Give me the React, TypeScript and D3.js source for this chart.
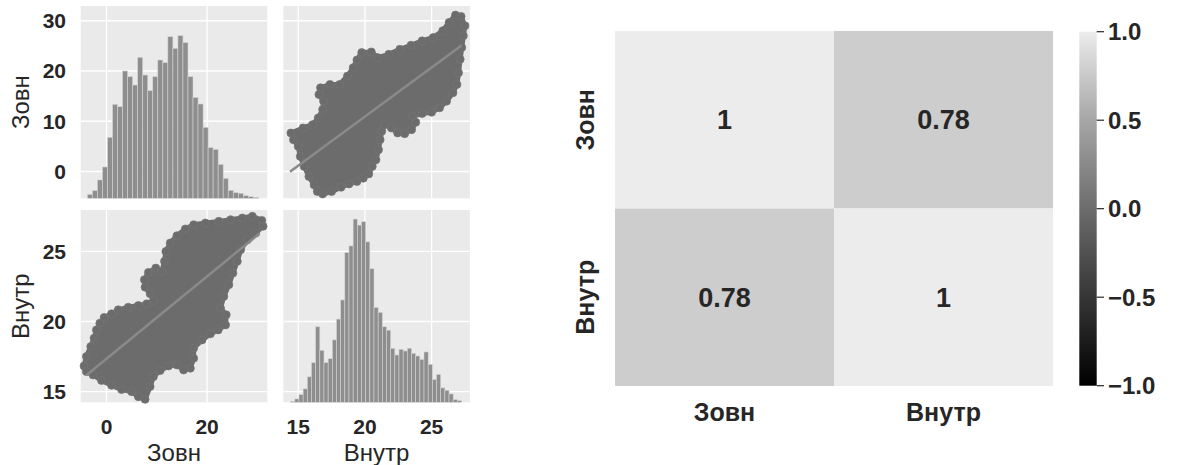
import React, { useEffect, useRef } from 'react'
import * as d3 from 'd3'

const variables = ['Зовн', 'Внутр']

// histogram of Зовн: 34 bins, 1 unit wide
const zovnBinStart = -3.8
const zovnBinWidth = 1.0
const zovnCounts = [
  12, 23, 55, 94, 183, 282, 275, 382, 365, 340, 423, 370, 323, 365, 415, 407, 485,
  450, 488, 467, 365, 303, 283, 213, 152, 147, 102, 60, 24, 17, 15, 8, 5, 3,
]
const zovnCountMax = 577

// histogram of Внутр: 41 bins
const vnutrBinStart = 14.43
const vnutrBinWidth = 0.3125
const vnutrCounts = [
  3, 10, 23, 40, 76, 118, 225, 155, 118, 130, 186, 248, 305, 446, 466, 546, 528, 538,
  478, 398, 283, 268, 225, 215, 161, 141, 158, 153, 161, 146, 138, 128, 150, 113, 68,
  83, 43, 36, 25, 8, 5,
]
const vnutrCountMax = 573

// axis limits read from the pairplot
const zovnLimX = [-5.13, 31.97]
const zovnLimY = [-5.33, 32.94]
const vnutrLimX = [13.88, 27.87]
const vnutrLimY = [14.24, 27.95]
const zovnTicks = [0, 20]
const zovnTicksY = [0, 10, 20, 30]
const vnutrTicks = [15, 20, 25]

// outline of the scatter cloud, [Зовн, Внутр]
const cloudOutline: [number, number][] = [
  [-4.47, 16.83], [-4.0, 17.5], [-3.13, 18.21], [-2.47, 18.81], [-2.0, 19.4],
  [-1.33, 19.88], [-0.47, 20.29], [1.0, 20.55], [2.33, 20.83], [4.33, 21.02],
  [6.33, 21.14], [8.0, 21.26], [9.33, 21.48], [8.67, 21.98], [7.67, 22.45],
  [7.53, 22.98], [8.33, 23.5], [9.8, 23.81], [11.0, 23.57], [11.53, 24.29],
  [11.8, 25.0], [12.67, 25.6], [14.0, 26.12], [15.67, 26.6], [17.33, 26.9],
  [19.67, 27.02], [22.33, 27.14], [24.67, 27.26], [27.0, 27.38], [29.0, 27.5],
  [30.87, 27.21], [31.13, 26.79], [29.67, 26.31], [28.0, 25.83], [26.67, 25.12],
  [26.0, 24.29], [25.13, 23.45], [24.33, 22.62], [23.33, 21.79], [22.67, 20.95],
  [23.8, 20.48], [23.67, 19.76], [22.2, 19.4], [20.67, 19.12], [19.0, 18.69],
  [17.33, 18.1], [17.33, 17.38], [16.67, 16.67], [15.33, 16.55], [14.0, 16.9],
  [12.33, 16.83], [10.67, 16.5], [9.33, 16.07], [8.67, 15.36], [7.67, 14.45],
  [6.33, 14.64], [5.0, 15.0], [3.0, 15.15], [1.0, 15.45], [-1.0, 15.8],
  [-2.67, 16.19], [-4.0, 16.43],
]

// regression lines
const vnutrOnZovn: [number, number][] = [[-4.0, 16.17], [30.4, 26.27]] // [Зовн, Внутр]
const zovnOnVnutr: [number, number][] = [[14.38, -0.06], [27.24, 25.1]] // [Внутр, Зовн]

const corr = [
  [1, 0.78],
  [0.78, 1],
]
const cbarTicks = [-1, -0.5, 0, 0.5, 1]

const FONT = '"Liberation Sans", Arial, sans-serif'
const TEXT = '#262626'
const PANEL_BG = '#eaeaea'

export default function App() {
  const svgRef = useRef<SVGSVGElement>(null)

  useEffect(() => {
    if (!svgRef.current) return
    const svg = d3.select(svgRef.current)
    svg.selectAll('*').remove()

    // ---------- pairplot ----------
    const colX = [80.7, 283.3]
    const colW = 186.6
    const rowY = [6, 210]
    const rowH = 192.3

    const xScales = [
      d3.scaleLinear().domain(zovnLimX).range([colX[0], colX[0] + colW]),
      d3.scaleLinear().domain(vnutrLimX).range([colX[1], colX[1] + colW]),
    ]
    const yScales = [
      d3.scaleLinear().domain(zovnLimY).range([rowY[0] + rowH, rowY[0]]),
      d3.scaleLinear().domain(vnutrLimY).range([rowY[1] + rowH, rowY[1]]),
    ]
    const xTicks = [zovnTicks, vnutrTicks]
    const yTicks = [zovnTicksY, vnutrTicks]

    for (let r = 0; r < 2; r++) {
      for (let c = 0; c < 2; c++) {
        const g = svg.append('g')
        g.append('rect')
          .attr('x', colX[c])
          .attr('y', rowY[r])
          .attr('width', colW)
          .attr('height', rowH)
          .attr('fill', PANEL_BG)
        g.selectAll('.vgrid')
          .data(xTicks[c])
          .join('line')
          .attr('x1', (d) => xScales[c](d))
          .attr('x2', (d) => xScales[c](d))
          .attr('y1', rowY[r])
          .attr('y2', rowY[r] + rowH)
          .attr('stroke', 'white')
          .attr('stroke-width', 1.3)
        g.selectAll('.hgrid')
          .data(yTicks[r])
          .join('line')
          .attr('x1', colX[c])
          .attr('x2', colX[c] + colW)
          .attr('y1', (d) => yScales[r](d))
          .attr('y2', (d) => yScales[r](d))
          .attr('stroke', 'white')
          .attr('stroke-width', 1.3)
      }
    }

    // diagonal histograms
    const drawHist = (
      counts: number[],
      start: number,
      width: number,
      countMax: number,
      c: number,
      r: number
    ) => {
      const x = xScales[c]
      const y = d3.scaleLinear().domain([0, countMax]).range([rowY[r] + rowH, rowY[r]])
      svg.append('g')
        .selectAll('rect')
        .data(counts)
        .join('rect')
        .attr('x', (d, i) => x(start + i * width))
        .attr('width', (d, i) => x(start + (i + 1) * width) - x(start + i * width))
        .attr('y', (d) => y(d))
        .attr('height', (d) => y(0) - y(d))
        .attr('fill', '#8e8e8e')
        .attr('stroke', '#d4d4d4')
        .attr('stroke-width', 0.6)
    }
    drawHist(zovnCounts, zovnBinStart, zovnBinWidth, zovnCountMax, 0, 0)
    drawHist(vnutrCounts, vnutrBinStart, vnutrBinWidth, vnutrCountMax, 1, 1)

    // scatter clouds
    const drawCloud = (pts: [number, number][], c: number, r: number) => {
      const x = xScales[c]
      const y = yScales[r]
      const g = svg.append('g')
      g.append('path')
        .attr('d', d3.line<[number, number]>().x((d) => x(d[0])).y((d) => y(d[1])).curve(d3.curveLinearClosed)(pts))
        .attr('fill', '#6c6c6c')
        .attr('stroke', '#6c6c6c')
        .attr('stroke-width', 5)
        .attr('stroke-linejoin', 'round')
      g.selectAll('circle')
        .data(pts)
        .join('circle')
        .attr('cx', (d) => x(d[0]))
        .attr('cy', (d) => y(d[1]))
        .attr('r', 4)
        .attr('fill', '#6c6c6c')
        .attr('stroke', '#757575')
        .attr('stroke-width', 0.7)
    }
    drawCloud(cloudOutline, 0, 1)
    drawCloud(cloudOutline.map((d) => [d[1], d[0]] as [number, number]), 1, 0)

    const drawReg = (pts: [number, number][], c: number, r: number) => {
      svg.append('path')
        .attr('d', d3.line<[number, number]>().x((d) => xScales[c](d[0])).y((d) => yScales[r](d[1]))(pts))
        .attr('stroke', '#8a8a8a')
        .attr('stroke-width', 2.5)
        .attr('fill', 'none')
    }
    drawReg(vnutrOnZovn, 0, 1)
    drawReg(zovnOnVnutr, 1, 0)

    // tick labels
    for (let r = 0; r < 2; r++) {
      svg.append('g')
        .selectAll('text')
        .data(yTicks[r])
        .join('text')
        .attr('x', 66)
        .attr('y', (d) => yScales[r](d))
        .attr('dy', '0.35em')
        .attr('text-anchor', 'end')
        .attr('font-family', FONT)
        .attr('font-weight', 'bold')
        .attr('font-size', 21)
        .attr('fill', TEXT)
        .text((d) => d)
      svg.append('text')
        .attr('transform', `translate(29,${rowY[r] + rowH / 2}) rotate(-90)`)
        .attr('text-anchor', 'middle')
        .attr('font-family', FONT)
        .attr('font-size', 24)
        .attr('fill', TEXT)
        .text(variables[r])
    }
    for (let c = 0; c < 2; c++) {
      svg.append('g')
        .selectAll('text')
        .data(xTicks[c])
        .join('text')
        .attr('x', (d) => xScales[c](d))
        .attr('y', 434)
        .attr('text-anchor', 'middle')
        .attr('font-family', FONT)
        .attr('font-weight', 'bold')
        .attr('font-size', 21)
        .attr('fill', TEXT)
        .text((d) => d)
      svg.append('text')
        .attr('x', colX[c] + colW / 2)
        .attr('y', 461)
        .attr('text-anchor', 'middle')
        .attr('font-family', FONT)
        .attr('font-size', 24)
        .attr('fill', TEXT)
        .text(variables[c])
    }

    // ---------- heatmap ----------
    const hx = d3.scaleBand().domain(variables).range([615, 1053])
    const hy = d3.scaleBand().domain(variables).range([31, 386])
    const color = d3
      .scaleLinear<string>()
      .domain([-1, -0.5, 0, 0.5, 1])
      .range(['#000000', '#363636', '#6c6c6c', '#a6a6a6', '#ececec'])

    const cells = variables.flatMap((row, i) =>
      variables.map((col, j) => ({ row, col, value: corr[i][j] }))
    )
    const hg = svg.append('g')
    hg.selectAll('rect')
      .data(cells)
      .join('rect')
      .attr('x', (d) => hx(d.col)!)
      .attr('y', (d) => hy(d.row)!)
      .attr('width', hx.bandwidth())
      .attr('height', hy.bandwidth())
      .attr('fill', (d) => color(d.value))
    hg.selectAll('text')
      .data(cells)
      .join('text')
      .attr('x', (d) => hx(d.col)! + hx.bandwidth() / 2)
      .attr('y', (d) => hy(d.row)! + hy.bandwidth() / 2)
      .attr('dy', '0.35em')
      .attr('text-anchor', 'middle')
      .attr('font-family', FONT)
      .attr('font-weight', 'bold')
      .attr('font-size', 27)
      .attr('fill', TEXT)
      .text((d) => d3.format('.2~f')(d.value))

    svg.append('g')
      .selectAll('text')
      .data(variables)
      .join('text')
      .attr('x', (d) => hx(d)! + hx.bandwidth() / 2)
      .attr('y', 421)
      .attr('text-anchor', 'middle')
      .attr('font-family', FONT)
      .attr('font-weight', 'bold')
      .attr('font-size', 25)
      .attr('fill', TEXT)
      .text((d) => d)
    svg.append('g')
      .selectAll('text')
      .data(variables)
      .join('text')
      .attr('transform', (d) => `translate(594,${hy(d)! + hy.bandwidth() / 2}) rotate(-90)`)
      .attr('text-anchor', 'middle')
      .attr('font-family', FONT)
      .attr('font-weight', 'bold')
      .attr('font-size', 25)
      .attr('fill', TEXT)
      .text((d) => d)

    // colorbar
    const cb = d3.scaleLinear().domain([-1, 1]).range([385.7, 31.7])
    const grad = svg.append('defs')
      .append('linearGradient')
      .attr('id', 'cbar')
      .attr('x1', 0)
      .attr('y1', 1)
      .attr('x2', 0)
      .attr('y2', 0)
    grad.selectAll('stop')
      .data(color.domain())
      .join('stop')
      .attr('offset', (d) => (d + 1) / 2)
      .attr('stop-color', (d) => color(d))
    svg.append('rect')
      .attr('x', 1079.3)
      .attr('y', cb(1))
      .attr('width', 17.4)
      .attr('height', cb(-1) - cb(1))
      .attr('fill', 'url(#cbar)')

    const cbAxis = svg.append('g')
    cbAxis.selectAll('line')
      .data(cbarTicks)
      .join('line')
      .attr('x1', 1096.7)
      .attr('x2', 1104)
      .attr('y1', (d) => cb(d))
      .attr('y2', (d) => cb(d))
      .attr('stroke', TEXT)
      .attr('stroke-width', 1.2)
    cbAxis.selectAll('text')
      .data(cbarTicks)
      .join('text')
      .attr('x', 1108)
      .attr('y', (d) => cb(d))
      .attr('dy', '0.35em')
      .attr('font-family', FONT)
      .attr('font-weight', 'bold')
      .attr('font-size', 24)
      .attr('fill', TEXT)
      .text((d) => d3.format('.1f')(d))
  }, [])

  return (
    <svg
      ref={svgRef}
      width={1178}
      height={465}
      style={{ position: 'absolute', left: 0, top: 0, background: 'white' }}
    />
  )
}
